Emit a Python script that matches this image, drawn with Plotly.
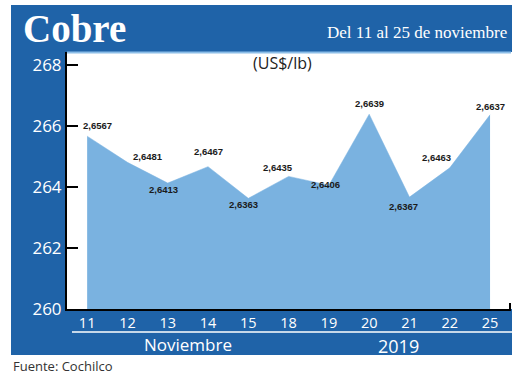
import plotly.graph_objects as go

# ---- data ----
days = ["11", "12", "13", "14", "15", "18", "19", "20", "21", "22", "25"]
price_cents = [265.67, 264.81, 264.13, 264.67, 263.63, 264.35, 264.06, 266.39, 263.67, 264.63, 266.37]
price_labels = ["2,6567", "2,6481", "2,6413", "2,6467", "2,6363", "2,6435",
                "2,6406", "2,6639", "2,6367", "2,6463", "2,6637"]
label_shift_x = [10, 21, -4, 0, -5, -11, -3, 0, -6, -13, 0]
label_shift_y = [11, 6, -6, 15, -6, 9, 1, 11, -9, 10, 8]
y_ticks = [260, 262, 264, 266, 268]

W, H = 520, 378
L, R, T, B = 67, 9, 52, 69
PW, PH = W - L - R, H - T - B

def px(x):
    return (x - L) / PW

def py(y):
    return (H - B - y) / PH

DARK_BLUE = "rgb(31,99,168)"
FILL_BLUE = "rgb(122,178,224)"

fig = go.Figure()
fig.add_trace(go.Scatter(
    x=days, y=price_cents, mode="lines", fill="tozeroy",
    fillcolor=FILL_BLUE, line=dict(color=FILL_BLUE, width=0.5),
    hoverinfo="skip", showlegend=False,
))

shapes = []
def rect(x0, y0, x1, y1, color):
    shapes.append(dict(type="rect", xref="paper", yref="paper",
                       x0=px(x0), x1=px(x1), y0=py(y1), y1=py(y0),
                       fillcolor=color, line=dict(width=0), layer="below"))

rect(11, 5, 512, 52, DARK_BLUE)
rect(11, 52, 67, 309, DARK_BLUE)
rect(11, 309, 512, 355, DARK_BLUE)
# light blue line at top of white panel
shapes.append(dict(type="line", xref="paper", yref="paper",
                   x0=px(67), x1=px(511), y0=py(52.5), y1=py(52.5),
                   line=dict(color="rgb(140,190,232)", width=2)))
# white line under x labels
shapes.append(dict(type="line", xref="paper", yref="paper",
                   x0=px(72), x1=px(512), y0=py(332), y1=py(332),
                   line=dict(color="white", width=1.5)))
# small uptick at the right end of x axis
shapes.append(dict(type="line", xref="paper", yref="paper",
                   x0=px(510), x1=px(510), y0=py(309), y1=py(303),
                   line=dict(color="black", width=2)))

annotations = []
for i, (v, t, sx, sy) in enumerate(zip(price_cents, price_labels, label_shift_x, label_shift_y)):
    annotations.append(dict(
        x=i, y=v, xref="x", yref="y", text="<b>" + t + "</b>", showarrow=False,
        xshift=sx, yshift=sy,
        font=dict(family="Liberation Sans", size=9.5, color="#1a1a1a"),
    ))

def txt(x, y, text, size, color, family, xanchor="center", bold=False):
    annotations.append(dict(
        x=px(x), y=py(y), xref="paper", yref="paper",
        text=("<b>" + text + "</b>") if bold else text,
        showarrow=False, xanchor=xanchor, yanchor="middle",
        font=dict(size=size, color=color, family=family),
    ))

txt(21, 28, "Cobre", 39, "white", "Liberation Serif", xanchor="left", bold=True)
txt(509, 32, "Del 11 al 25 de noviembre", 17, "white", "Liberation Serif", xanchor="right")
txt(282, 63, "(US$/lb)", 16, "#222", "Open Sans")
txt(188, 344, "Noviembre", 17, "white", "Open Sans")
txt(398, 345.5, "2019", 18, "white", "Open Sans")
txt(11, 366, "Fuente: Cochilco", 13, "#333", "Open Sans", xanchor="left")

fig.update_layout(
    width=W, height=H,
    margin=dict(l=L, r=R, t=T, b=B, pad=0),
    paper_bgcolor="white", plot_bgcolor="rgba(0,0,0,0)",
    shapes=shapes, annotations=annotations, showlegend=False,
    xaxis=dict(
        type="category", range=[-0.5, 10.52], showgrid=False, zeroline=False,
        showline=True, linecolor="black", linewidth=2, ticks="",
        tickfont=dict(family="Open Sans", size=14.5, color="white"),
        fixedrange=True,
    ),
    yaxis=dict(
        range=[260, 268.43], tickvals=y_ticks, showgrid=False, zeroline=False,
        showline=True, linecolor="black", linewidth=2,
        ticks="inside", ticklen=11, tickwidth=2, tickcolor="black",
        tickfont=dict(family="Open Sans", size=17, color="white"),
        fixedrange=True,
    ),
)

fig.write_html("out.html", config={"displayModeBar": False},
               post_script="document.body.style.margin='0';document.body.style.padding='0';")
